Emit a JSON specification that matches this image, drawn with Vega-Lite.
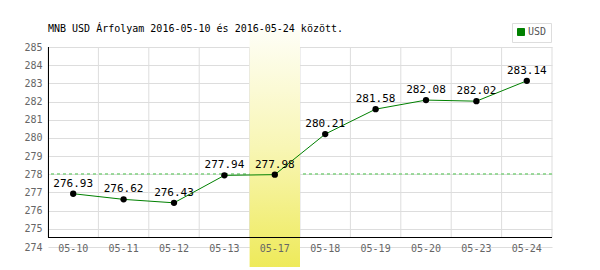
{
  "$schema": "https://vega.github.io/schema/vega-lite/v6.json",
  "width": 504,
  "height": 200,
  "autosize": "none",
  "padding": {"left": 48, "top": 47, "right": 48, "bottom": 23},
  "background": "white",
  "title": {
    "text": "MNB USD Árfolyam 2016-05-10 és 2016-05-24 között.",
    "anchor": "start",
    "frame": "group",
    "font": "DejaVu Sans Mono",
    "fontSize": 10,
    "fontWeight": "normal",
    "color": "#000000",
    "baseline": "bottom",
    "offset": -21
  },
  "config": {
    "view": {"stroke": null},
    "font": "DejaVu Sans Mono",
    "axisY": {
      "title": null,
      "grid": true,
      "gridColor": "#dddddd",
      "domain": false,
      "ticks": false,
      "tickSize": 0,
      "labelPadding": 6,
      "labelFont": "DejaVu Sans Mono",
      "labelFontSize": 10,
      "labelColor": "#666666"
    }
  },
  "data": {
    "values": [
      {"date": "05-10", "rate": 276.93, "series": "USD"},
      {"date": "05-11", "rate": 276.62, "series": "USD"},
      {"date": "05-12", "rate": 276.43, "series": "USD"},
      {"date": "05-13", "rate": 277.94, "series": "USD"},
      {"date": "05-17", "rate": 277.98, "series": "USD"},
      {"date": "05-18", "rate": 280.21, "series": "USD"},
      {"date": "05-19", "rate": 281.58, "series": "USD"},
      {"date": "05-20", "rate": 282.08, "series": "USD"},
      {"date": "05-23", "rate": 282.02, "series": "USD"},
      {"date": "05-24", "rate": 283.14, "series": "USD"}
    ]
  },
  "layer": [
    {
      "mark": {"type": "rule", "color": "#dddddd", "strokeWidth": 1},
      "encoding": {
        "x": {"field": "date", "type": "ordinal", "bandPosition": 0,
          "scale": {"paddingInner": 0, "paddingOuter": 0},
          "axis": {
            "title": null,
            "grid": false,
            "domain": false,
            "ticks": false,
            "tickSize": 0,
            "labelAngle": 0,
            "labelFont": "DejaVu Sans Mono",
            "labelFontSize": 10,
            "labelColor": "#666666",
            "labelBaseline": "middle",
            "labelPadding": 1,
            "zindex": 2
          }},
        "y": {"datum": 285, "type": "quantitative",
          "scale": {"domain": [274, 285], "nice": false, "zero": false},
          "axis": {"values": [274, 275, 276, 277, 278, 279, 280, 281, 282, 283, 284, 285]}
        },
        "y2": {"datum": 274.5225}
      }
    },
    {
      "transform": [{"filter": "datum.date == '05-24'"}],
      "mark": {"type": "rule", "color": "#dddddd", "strokeWidth": 1},
      "encoding": {
        "x": {"field": "date", "type": "ordinal", "bandPosition": 1},
        "y": {"datum": 285, "type": "quantitative",
          "axis": {"values": [274, 275, 276, 277, 278, 279, 280, 281, 282, 283, 284, 285]}},
        "y2": {"datum": 274.5225}
      }
    },
    {
      "mark": {"type": "rule", "color": "#99d699", "strokeWidth": 1, "strokeDash": [3, 3]},
      "encoding": {"y": {"datum": 278, "type": "quantitative",
        "axis": {"values": [274, 275, 276, 277, 278, 279, 280, 281, 282, 283, 284, 285]}}}
    },
    {
      "transform": [{"filter": "datum.date == '05-17'"}],
      "mark": {
        "type": "rect",
        "color": {
          "gradient": "linear",
          "x1": 0, "y1": 0, "x2": 0, "y2": 1,
          "stops": [
            {"offset": 0, "color": "#fefef6"},
            {"offset": 0.5, "color": "#f8f6b4"},
            {"offset": 1, "color": "#eeea5a"}
          ]
        }
      },
      "encoding": {
        "x": {"field": "date", "type": "ordinal"},
        "y": {"datum": 285.94, "type": "quantitative",
          "axis": {"values": [274, 275, 276, 277, 278, 279, 280, 281, 282, 283, 284, 285]}},
        "y2": {"datum": 272.9}
      }
    },
    {
      "mark": {"type": "rule", "color": "#000000", "strokeWidth": 1},
      "encoding": {"y": {"datum": 274.5225, "type": "quantitative",
        "axis": {"values": [274, 275, 276, 277, 278, 279, 280, 281, 282, 283, 284, 285]}}}
    },
    {
      "transform": [{"filter": "datum.date == '05-10'"}],
      "mark": {"type": "rule", "color": "#000000", "strokeWidth": 1, "xOffset": 0.5},
      "encoding": {
        "x": {"field": "date", "type": "ordinal", "bandPosition": 0},
        "y": {"datum": 285, "type": "quantitative",
          "axis": {"values": [274, 275, 276, 277, 278, 279, 280, 281, 282, 283, 284, 285]}},
        "y2": {"datum": 274.5225}
      }
    },
    {
      "mark": {"type": "line", "strokeWidth": 1},
      "encoding": {
        "x": {"field": "date", "type": "ordinal"},
        "y": {"field": "rate", "type": "quantitative",
          "axis": {"values": [274, 275, 276, 277, 278, 279, 280, 281, 282, 283, 284, 285]}},
        "color": {
          "field": "series",
          "type": "nominal",
          "scale": {"range": ["#008000"]},
          "legend": {
            "title": null,
            "orient": "none",
            "legendX": 464,
            "legendY": -24,
            "padding": 4,
            "strokeColor": "#dddddd",
            "fillColor": "#ffffff",
            "symbolType": "square",
            "symbolSize": 49,
            "symbolFillColor": "#008000",
            "symbolStrokeColor": "#bbbbbb",
            "symbolStrokeWidth": 1,
            "labelFont": "DejaVu Sans Mono",
            "labelFontSize": 10,
            "labelColor": "#555555",
            "labelOffset": 2
          }
        }
      }
    },
    {
      "mark": {"type": "circle", "color": "#000000", "opacity": 1, "size": 40},
      "encoding": {
        "x": {"field": "date", "type": "ordinal"},
        "y": {"field": "rate", "type": "quantitative",
          "axis": {"values": [274, 275, 276, 277, 278, 279, 280, 281, 282, 283, 284, 285]}}
      }
    },
    {
      "mark": {"type": "text", "color": "#000000", "font": "DejaVu Sans Mono", "fontSize": 11, "baseline": "bottom", "dy": -5},
      "encoding": {
        "x": {"field": "date", "type": "ordinal"},
        "y": {"field": "rate", "type": "quantitative",
          "axis": {"values": [274, 275, 276, 277, 278, 279, 280, 281, 282, 283, 284, 285]}},
        "text": {"field": "rate", "type": "quantitative", "format": ".2f"}
      }
    }
  ]
}
